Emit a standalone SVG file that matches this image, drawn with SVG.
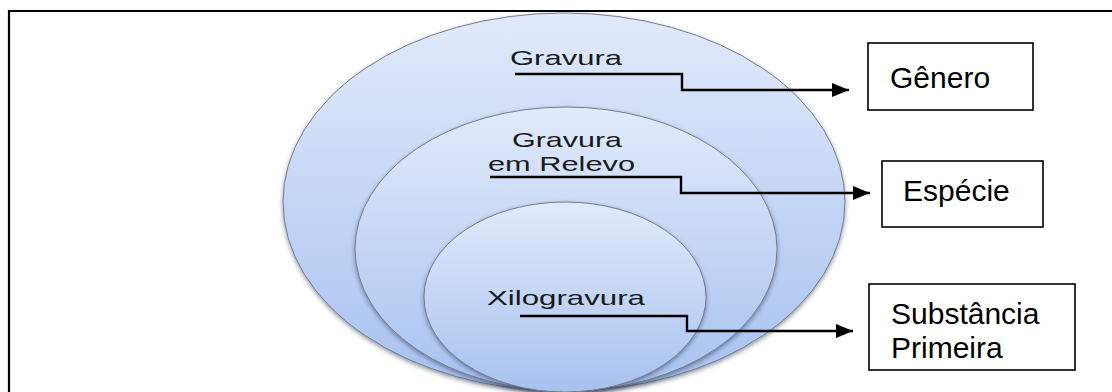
<svg xmlns="http://www.w3.org/2000/svg" width="1112" height="392" viewBox="0 0 1112 392">
  <style>
    .ell { stroke: #737b89; stroke-width: 1; }
    .lbl { font-family: "Liberation Sans", Arial, sans-serif; font-size: 21px; fill: #1a1a1a; }
    .box { fill: #ffffff; stroke: #000000; stroke-width: 1.6; }
    .btxt { font-family: "Liberation Sans", Arial, sans-serif; font-size: 30px; fill: #000000; }
    .conn { fill: none; stroke: #000000; stroke-width: 2.4; }
  </style>
  <defs>
    <linearGradient id="gEll" x1="0" y1="0" x2="0" y2="1">
      <stop offset="0" stop-color="#e1eafb"/>
      <stop offset="1" stop-color="#a7c1ef"/>
    </linearGradient>
    <filter id="sh" x="-10%" y="-10%" width="120%" height="125%">
      <feDropShadow dx="0" dy="2" stdDeviation="2" flood-color="#1f2a44" flood-opacity="0.5"/>
    </filter>
    <marker id="arr" markerUnits="userSpaceOnUse" markerWidth="18" markerHeight="14" refX="17" refY="7" orient="auto">
      <path d="M0,0 L17,7 L0,14 Z" fill="#000000"/>
    </marker>
  </defs>

  <rect x="0" y="0" width="1112" height="392" fill="#ffffff"/>
  <path d="M9,400 V11 H1120" fill="none" stroke="#000000" stroke-width="2.2"/>

  <g id="ellipse-gravura">
    <ellipse class="ell" cx="564" cy="202" rx="281" ry="189" fill="url(#gEll)" filter="url(#sh)"/>
    <text class="lbl" x="510" y="65" textLength="112" lengthAdjust="spacingAndGlyphs">Gravura</text>
  </g>
  <g id="ellipse-relevo">
    <ellipse class="ell" cx="566" cy="249" rx="211" ry="142" fill="url(#gEll)" filter="url(#sh)"/>
    <text class="lbl" x="512" y="147" textLength="110" lengthAdjust="spacingAndGlyphs">Gravura</text>
    <text class="lbl" x="488" y="171" textLength="147" lengthAdjust="spacingAndGlyphs">em Relevo</text>
  </g>
  <g id="ellipse-xilo">
    <ellipse class="ell" cx="565" cy="297" rx="141" ry="95" fill="url(#gEll)" filter="url(#sh)"/>
    <text class="lbl" x="487" y="305" textLength="158" lengthAdjust="spacingAndGlyphs">Xilogravura</text>
  </g>

  <g id="box-genero">
    <rect class="box" x="868" y="43" width="165" height="67"/>
    <text class="btxt" x="890" y="88">Gênero</text>
  </g>
  <g id="box-especie">
    <rect class="box" x="882" y="161" width="161" height="66"/>
    <text class="btxt" x="903" y="201">Espécie</text>
  </g>
  <g id="box-substancia">
    <rect class="box" x="869" y="284" width="206" height="86"/>
    <text class="btxt" x="891" y="324">Substância</text>
    <text class="btxt" x="891" y="358">Primeira</text>
  </g>

  <g id="connectors">
    <path class="conn" d="M515,74 H682 V90 H849" marker-end="url(#arr)"/>
    <path class="conn" d="M490,177 H681 V193 H870" marker-end="url(#arr)"/>
    <path class="conn" d="M520,316 H687 V331 H853" marker-end="url(#arr)"/>
  </g>
</svg>
